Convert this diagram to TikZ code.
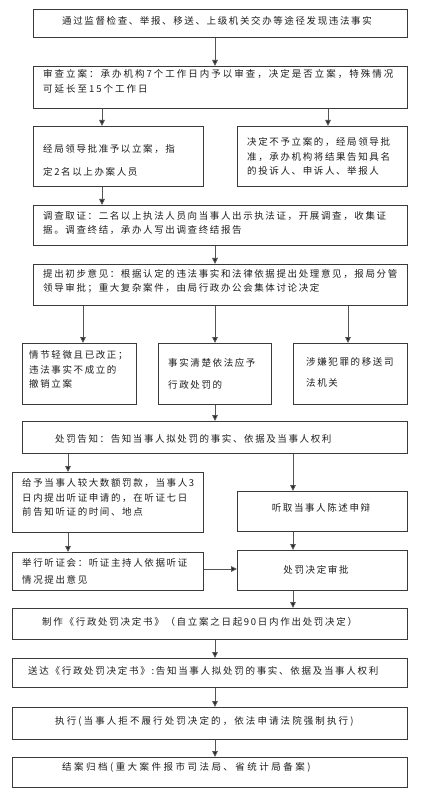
\documentclass[tikz,border=0pt]{standalone}
\usepackage{fontspec}
\setmainfont{Noto Sans CJK SC}[LetterSpace=17]
\usetikzlibrary{arrows.meta}
\definecolor{boxline}{HTML}{3A3A3A}
\definecolor{arrline}{HTML}{555555}
\definecolor{txt}{HTML}{1E1E1E}
\begin{document}
\begin{tikzpicture}[x=1pt,y=-1pt,
  box/.style={draw=boxline,line width=1.1pt,anchor=north west,inner sep=0pt,fill=white},
  tx/.style={anchor=west,inner sep=0pt,align=left,text=txt,font=\fontsize{9.5}{#1}\selectfont},
  tx/.default=14.5,
  ls/.style={font=\fontsize{9.5}{15}\selectfont\addfontfeature{LetterSpace=#1}},
  arr/.style={draw=arrline,line width=0.9pt,-{Triangle[length=6pt,width=5.5pt,fill=black!85]}}]
\useasboundingbox[fill=white] (0,0) rectangle (430,791);
% boxes
\node[box,minimum width=374pt,minimum height=28pt] (b1) at (33,9) {};
\node[box,minimum width=374pt,minimum height=42pt] (b2) at (33,66) {};
\node[box,minimum width=170pt,minimum height=60pt] (b3a) at (33,126) {};
\node[box,minimum width=170pt,minimum height=60pt] (b3b) at (237,126) {};
\node[box,minimum width=374pt,minimum height=40pt] (b4) at (33,205) {};
\node[box,minimum width=374pt,minimum height=41pt] (b5) at (33,264) {};
\node[box,minimum width=114pt,minimum height=61pt] (b6a) at (22,343) {};
\node[box,minimum width=113pt,minimum height=61pt] (b6b) at (158,343) {};
\node[box,minimum width=114pt,minimum height=61pt] (b6c) at (293,343) {};
\node[box,minimum width=385pt,minimum height=32pt] (b7) at (22,421) {};
\node[box,minimum width=191pt,minimum height=60pt] (b8a) at (12,472) {};
\node[box,minimum width=170pt,minimum height=40pt] (b8b) at (237,491) {};
\node[box,minimum width=191pt,minimum height=38pt] (b9a) at (12,552) {};
\node[box,minimum width=170pt,minimum height=40pt] (b9b) at (237,550) {};
\node[box,minimum width=395pt,minimum height=31pt] (b10) at (12,608) {};
\node[box,minimum width=395pt,minimum height=29pt] (b11) at (12,658) {};
\node[box,minimum width=395pt,minimum height=32pt] (b12) at (12,707) {};
\node[box,minimum width=395pt,minimum height=30pt] (b13) at (12,757) {};
% texts
\node[tx] (t1) at (62,21) {通过监督检查、举报、移送、上级机关交办等途径发现违法事实};
\node[tx,ls=21] (t2) at (43,81.5) {审查立案：承办机构7个工作日内予以审查，决定是否立案，特殊情况\\可延长至15个工作日};
\node[tx=23] (t3a) at (43,160.5) {经局领导批准予以立案，指\\定2名以上办案人员};
\node[tx] (t3b) at (247,156.5) {决定不予立案的，经局领导批\\准，承办机构将结果告知具名\\的投诉人、申诉人、举报人};
\node[tx=14] (t4) at (43,223) {调查取证：二名以上执法人员向当事人出示执法证，开展调查，收集证\\据。调查终结，承办人写出调查终结报告};
\node[tx=14] (t5) at (43,281) {提出初步意见：根据认定的违法事实和法律依据提出处理意见，报局分管\\领导审批；重大复杂案件，由局行政办公会集体讨论决定};
\node[tx] (t6a) at (29,369.5) {情节轻微且已改正；\\违法事实不成立的\\撤销立案};
\node[tx=22] (t6b) at (168,374) {事实清楚依法应予\\行政处罚的};
\node[tx=21] (t6c) at (306,372.5) {涉嫌犯罪的移送司\\法机关};
\node[tx] (t7) at (55,439) {处罚告知：告知当事人拟处罚的事实、依据及当事人权利};
\node[tx] (t8a) at (22,497.5) {给予当事人较大数额罚款，当事人3\\日内提出听证申请的，在听证七日\\前告知听证的时间、地点};
\node[tx,anchor=center] (t8b) at (321,508) {听取当事人陈述申辩};
\node[tx=17] (t9a) at (22,571.5) {举行听证会：听证主持人依据听证\\情况提出意见};
\node[tx,anchor=center] (t9b) at (316,570) {处罚决定审批};
\node[tx,ls=18] (t10) at (42,622) {制作《行政处罚决定书》（自立案之日起90日内作出处罚决定）};
\node[tx,ls=18] (t11) at (28,671) {送达《行政处罚决定书》:告知当事人拟处罚的事实、依据及当事人权利};
\node[tx,ls=22] (t12) at (55,721) {执行(当事人拒不履行处罚决定的，依法申请法院强制执行)};
\node[tx,ls=26] (t13) at (62,767) {结案归档(重大案件报市司法局、省统计局备案)};
% connectors
\draw[arr] (b1.south -| 215,0) -- (b2.north -| 215,0);
\draw[arr] (b2.south -| 102,0) -- (b3a.north -| 102,0);
\draw[arr] (b2.south -| 328,0) -- (b3b.north -| 328,0);
\draw[arr] (b3a.south -| 102,0) -- (b4.north -| 102,0);
\draw[arr] (b4.south -| 215,0) -- (b5.north -| 215,0);
\draw[arr] (b5.south -| 83,0) -- (b6a.north -| 83,0);
\draw[arr] (b5.south -| 215,0) -- (b6b.north -| 215,0);
\draw[arr] (b5.south -| 348,0) -- (b6c.north -| 348,0);
\draw[arr] (b6b.south -| 215,0) -- (b7.north -| 215,0);
\draw[arr] (b7.south -| 68,0) -- (b8a.north -| 68,0);
\draw[arr] (b7.south -| 293,0) -- (b8b.north -| 293,0);
\draw[arr] (b8a.south -| 68,0) -- (b9a.north -| 68,0);
\draw[arr] (b8b.south -| 293,0) -- (b9b.north -| 293,0);
\draw[arr] (b9a.east |- 0,569) -- (b9b.west |- 0,569);
\draw[arr] (b9b.south -| 293,0) -- (b10.north -| 293,0);
\draw[arr] (b10.south -| 215,0) -- (b11.north -| 215,0);
\draw[arr] (b11.south -| 215,0) -- (b12.north -| 215,0);
\draw[arr] (b12.south -| 215,0) -- (b13.north -| 215,0);
\end{tikzpicture}
\end{document}
